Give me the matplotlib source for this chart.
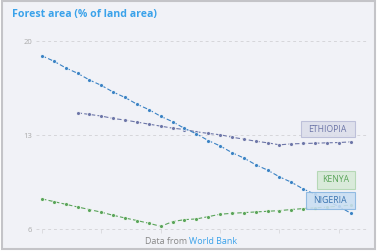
import matplotlib
matplotlib.use("Agg")
import matplotlib.pyplot as plt
from matplotlib.patches import Rectangle

years = list(range(1990, 2017))
nigeria = [18.9, 18.5, 18.0, 17.6, 17.1, 16.7, 16.2, 15.8, 15.3, 14.9, 14.4, 14.0,
           13.5, 13.1, 12.6, 12.2, 11.7, 11.3, 10.8, 10.4, 9.9, 9.5, 9.0, 8.6, 8.1, 7.7, 7.2]
ethiopia_years = list(range(1993, 2017))
ethiopia = [14.66, 14.54, 14.42, 14.24, 14.12, 13.97, 13.82, 13.67, 13.52, 13.42, 13.25,
            13.13, 13.03, 12.85, 12.70, 12.55, 12.43, 12.28, 12.35, 12.38, 12.40, 12.43, 12.45, 12.50]
kenya = [8.26, 8.06, 7.86, 7.66, 7.47, 7.27, 7.04, 6.84, 6.65, 6.45, 6.22, 6.57, 6.72, 6.77,
         6.94, 7.12, 7.19, 7.24, 7.29, 7.34, 7.39, 7.47, 7.54, 7.60, 7.65, 7.72, 7.80]
yticks = [6, 13, 20]
xticks = [1990, 1995, 2000, 2005, 2010, 2015]

W, H = 378, 252
fig = plt.figure(figsize=(W / 100, H / 100), dpi=100)
fig.patch.set_facecolor("white")
# card frame
fig.patches.append(Rectangle((2 / W, 3 / H), 373 / W, 248 / H, transform=fig.transFigure,
                             facecolor="#f1f2f7", edgecolor="#c4c4c8", linewidth=1.5, zorder=0))

# axes: x 1990 at px 42, 2016 at 350.7; y 20 at 41, 6 at 229.3
px_per_year = (350.7 - 42) / 26
x0 = 1990 - (42 - 36) / px_per_year
x1 = 2016 + (368 - 350.7) / px_per_year
ax_left, ax_right = 36, 368
ay_top, ay_bot = 41, 229.3
ax = fig.add_axes([ax_left / W, 1 - ay_bot / H, (ax_right - ax_left) / W, (ay_bot - ay_top) / H])
ax.set_zorder(2)
ax.set_facecolor("none")
ax.set_xlim(x0, x1)
ax.set_ylim(6, 20)
for s in ax.spines.values():
    s.set_visible(False)
ax.set_yticks(yticks)
ax.set_yticklabels([str(v) for v in yticks], fontsize=5.5, color="#aaaaaa", family="Open Sans")
ax.tick_params(axis="y", length=0, pad=3)
ax.set_xticks(xticks)
ax.set_xticklabels([])
ax.tick_params(axis="x", length=3, color="#d8d8dc", direction="out", width=0.6)
ax.xaxis.set_ticks_position("bottom")
for v in yticks:
    ax.axhline(v, color="#d6d6da", lw=0.7, ls=(0, (3, 3)), zorder=1, clip_on=False)

c_nig = "#3a82c4"
c_eth = "#6d76a8"
c_ken = "#5aa45a"
kw = dict(lw=0.8, ls=(0, (4, 2)), marker="o", markersize=2.8, markeredgecolor="white",
          markeredgewidth=0.5, clip_on=False, zorder=3)
ax.plot(years, kenya, color=c_ken, **kw)
ax.plot(ethiopia_years, ethiopia, color=c_eth, **kw)
ax.plot(years, nigeria, color=c_nig, **kw)

def label(text, x_left, y_top, x_right, y_bot, fc, ec, tc):
    fig.patches.append(Rectangle((x_left / W, 1 - y_bot / H), (x_right - x_left) / W, (y_bot - y_top) / H,
                                 transform=fig.transFigure, facecolor=fc, edgecolor=ec,
                                 linewidth=0.8, alpha=0.88, zorder=5))
    fig.text((x_left + x_right) / 2 / W, 1 - (y_top + y_bot) / 2 / H, text, ha="center", va="center",
             fontsize=6.2, color=tc, family="Open Sans", zorder=6)

label("ETHIOPIA", 300.7, 121, 354.7, 137.3, "#dcdeea", "#b8bbd6", c_eth)
label("KENYA", 317.3, 171.3, 354.7, 188.7, "#d6ead6", "#b0d6b0", c_ken)
label("NIGERIA", 305.7, 192.3, 354.7, 209, "#c9def2", "#86b5e0", "#3a74b0")

fig.text(12 / W, 1 - 15 / H, "Forest area (% of land area)", ha="left", va="center",
         fontsize=7.6, fontweight="bold", color="#3aa2ea", family="Open Sans")
fig.text(189 / W, 1 - 242 / H, "Data from ", ha="right", va="center", fontsize=6.4,
         color="#888888", family="Open Sans")
fig.text(189 / W, 1 - 242 / H, "World Bank", ha="left", va="center", fontsize=6.4,
         color="#3aa2ea", family="Open Sans")

fig.savefig("out.png", dpi=100)
